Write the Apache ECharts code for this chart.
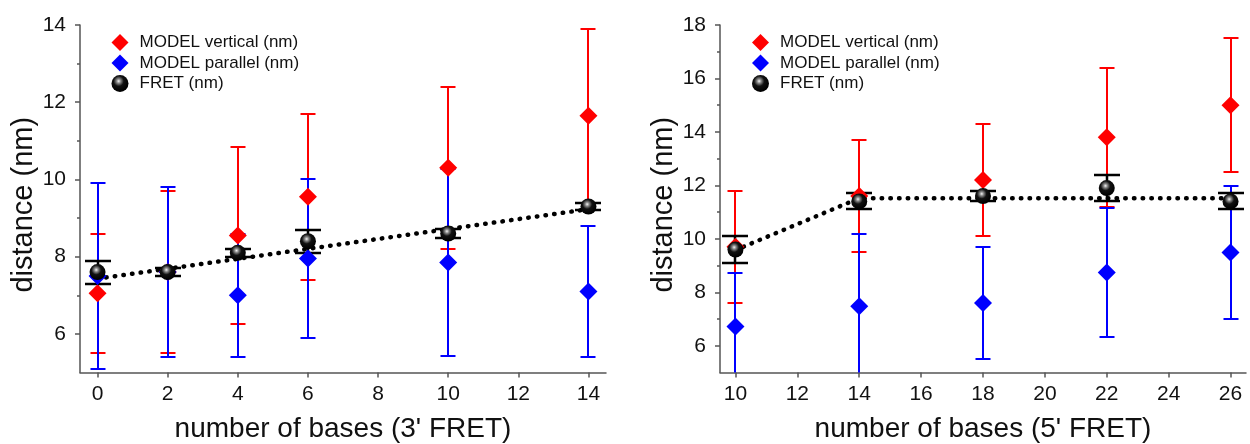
<!DOCTYPE html>
<html>
<head>
<meta charset="utf-8">
<script src="https://cdn.jsdelivr.net/npm/echarts@6/dist/echarts.min.js"></script>
<style>
html,body{margin:0;padding:0;background:#fff;}
#chart{width:1250px;height:444px;}
</style>
</head>
<body>
<div id="chart"></div>
<script>
// ---- Left panel data (3' FRET) ----
const leftX = [0, 2, 4, 6, 10, 14];
const leftVert = [7.05, 7.6, 8.55, 9.55, 10.3, 11.65];
const leftVertErr = [1.55, 2.1, 2.3, 2.15, 2.1, 2.25];
const leftPar = [7.5, 7.6, 7.0, 7.95, 7.85, 7.1];
const leftParErr = [2.4, 2.2, 1.6, 2.05, 2.43, 1.7];
const leftFret = [7.6, 7.6, 8.1, 8.4, 8.6, 9.3];
const leftFretErr = [0.3, 0.1, 0.1, 0.3, 0.12, 0.1];
const leftFitX = [0, 14];
const leftFitY = [7.43, 9.23];
const leftXTicks = [0, 2, 4, 6, 8, 10, 12, 14];
const leftYTicks = [6, 8, 10, 12, 14];
const leftYMinor = [7, 9, 11, 13];

// ---- Right panel data (5' FRET) ----
const rightX = [10, 14, 18, 22, 26];
const rightVert = [9.7, 11.6, 12.2, 13.8, 15.0];
const rightVertErr = [2.1, 2.1, 2.1, 2.6, 2.5];
const rightPar = [6.72, 7.48, 7.6, 8.74, 9.49];
const rightParErr = [2.0, 2.7, 2.1, 2.43, 2.5];
const rightFret = [9.6, 11.4, 11.6, 11.9, 11.4];
const rightFretErr = [0.5, 0.3, 0.2, 0.5, 0.3];
const rightFitX = [10, 14, 26];
const rightFitY = [9.58, 11.52, 11.52];
const rightXTicks = [10, 12, 14, 16, 18, 20, 22, 24, 26];
const rightYTicks = [6, 8, 10, 12, 14, 16, 18];
const rightYMinor = [7, 9, 11, 13, 15, 17];

const NAME_V = 'MODEL vertical (nm)';
const NAME_P = 'MODEL parallel (nm)';
const NAME_F = 'FRET (nm)';
const FONT = 'Liberation Sans, Arial, sans-serif';
const AXIS_COLOR = '#555';
const TEXT_COLOR = '#111';

const ballColor = new echarts.graphic.RadialGradient(0.42, 0.36, 0.6, [
  {offset: 0, color: '#f4f4f4'},
  {offset: 0.2, color: '#8a8a8a'},
  {offset: 0.5, color: '#111'},
  {offset: 1, color: '#000'}
]);

function pts(xs, ys) { return xs.map((x, i) => [x, ys[i]]); }
function errPts(xs, ys, es) { return xs.map((x, i) => [x, ys[i], es[i]]); }

function errRender(color, capW, lw) {
  return function (params, api) {
    const x = api.value(0), y = api.value(1), e = api.value(2);
    const t = api.coord([x, y + e]);
    const b = api.coord([x, y - e]);
    const cx = Math.round(t[0]);
    const ty = Math.round(t[1]), by = Math.round(b[1]);
    const h = capW / 2;
    const st = {stroke: color, lineWidth: lw, opacity: 1};
    return {
      type: 'group',
      children: [
        {type: 'line', shape: {x1: cx, y1: ty, x2: cx, y2: by}, style: st},
        {type: 'line', shape: {x1: cx - h, y1: ty, x2: cx + h, y2: ty}, style: st},
        {type: 'line', shape: {x1: cx - h, y1: by, x2: cx + h, y2: by}, style: st}
      ]
    };
  };
}

function xAxisCfg(gridIndex, min, max, ticks, title) {
  return {
    type: 'value', gridIndex, min, max, position: 'bottom',
    splitLine: {show: false},
    axisLine: {show: true, onZero: false, lineStyle: {color: AXIS_COLOR, width: 1.5}},
    axisTick: {show: true, inside: false, length: 5, customValues: ticks, lineStyle: {color: AXIS_COLOR, width: 1.5}},
    axisLabel: {show: true, customValues: ticks, margin: 11, fontSize: 21, color: TEXT_COLOR, fontFamily: FONT},
    name: title, nameLocation: 'middle', nameGap: 43,
    nameTextStyle: {fontSize: 28, color: TEXT_COLOR, fontFamily: FONT}
  };
}
function yAxisCfg(gridIndex, min, max, ticks) {
  return {
    type: 'value', gridIndex, min, max, position: 'left',
    splitLine: {show: false},
    axisLine: {show: true, onZero: false, lineStyle: {color: AXIS_COLOR, width: 1.5}},
    axisTick: {show: true, inside: false, length: 5, customValues: ticks, lineStyle: {color: AXIS_COLOR, width: 1.5}},
    axisLabel: {show: true, customValues: ticks, margin: 14, fontSize: 21, color: TEXT_COLOR, fontFamily: FONT},
    name: 'distance (nm)', nameLocation: 'middle', nameGap: 41,
    nameTextStyle: {fontSize: 29, color: TEXT_COLOR, fontFamily: FONT, padding: [0, 12, 0, 0]}
  };
}
function yMinorCfg(gridIndex, min, max, ticks) {
  return {
    type: 'value', gridIndex, min, max, position: 'left',
    splitLine: {show: false},
    axisLine: {show: false, onZero: false},
    axisTick: {show: true, inside: false, length: 3, customValues: ticks, lineStyle: {color: AXIS_COLOR, width: 1.5}},
    axisLabel: {show: false}
  };
}

function panelSeries(xi, yi, xs, v, ve, p, pe, f, fe, fitX, fitY) {
  return [
    {type: 'custom', name: 'errV' + xi, xAxisIndex: xi, yAxisIndex: yi, clip: true,
     renderItem: errRender('#ff0000', 15, 2), encode: {x: 0, y: 1}, data: errPts(xs, v, ve), z: 2},
    {type: 'scatter', name: NAME_V, xAxisIndex: xi, yAxisIndex: yi, symbol: 'diamond', symbolSize: 18,
     itemStyle: {color: '#ff0000', opacity: 1}, data: pts(xs, v), z: 2},
    {type: 'custom', name: 'errP' + xi, xAxisIndex: xi, yAxisIndex: yi, clip: true,
     renderItem: errRender('#0000ff', 15, 2), encode: {x: 0, y: 1}, data: errPts(xs, p, pe), z: 2},
    {type: 'scatter', name: NAME_P, xAxisIndex: xi, yAxisIndex: yi, symbol: 'diamond', symbolSize: 18,
     itemStyle: {color: '#0000ff', opacity: 1}, data: pts(xs, p), z: 2},
    {type: 'line', name: 'fit' + xi, xAxisIndex: xi, yAxisIndex: yi, symbol: 'none', silent: true,
     lineStyle: {color: '#000', width: 4.5, type: [0.5, 8.2], cap: 'round'}, data: pts(fitX, fitY), z: 2},
    {type: 'custom', name: 'errF' + xi, xAxisIndex: xi, yAxisIndex: yi, clip: true,
     renderItem: errRender('#000000', 26, 2.5), encode: {x: 0, y: 1}, data: errPts(xs, f, fe), z: 2},
    {type: 'scatter', name: NAME_F, xAxisIndex: xi, yAxisIndex: yi, symbol: 'circle', symbolSize: 16,
     itemStyle: {color: ballColor, opacity: 1}, data: pts(xs, f), z: 2}
  ];
}

function legendCfg(left) {
  return {
    orient: 'vertical', left, top: 29, itemGap: 3.5, itemWidth: 17, itemHeight: 17,
    selectedMode: false,
    textStyle: {fontSize: 17, color: TEXT_COLOR, fontFamily: FONT, padding: [0, 0, 0, 6]},
    data: [
      {name: NAME_V, icon: 'diamond', itemStyle: {color: '#ff0000', opacity: 1}},
      {name: NAME_P, icon: 'diamond', itemStyle: {color: '#0000ff', opacity: 1}},
      {name: NAME_F, icon: 'circle', itemStyle: {color: ballColor, opacity: 1}}
    ]
  };
}

const chart = echarts.init(document.getElementById('chart'), null, {renderer: 'canvas'});
chart.setOption({
  backgroundColor: '#fff',
  animation: false,
  grid: [
    {left: 80, right: 644, top: 25, bottom: 71.5, containLabel: false, outerBoundsMode: 'none'},
    {left: 720, right: 4, top: 25, bottom: 71.5, containLabel: false, outerBoundsMode: 'none'}
  ],
  legend: [legendCfg(106.5), legendCfg(747)],
  xAxis: [
    xAxisCfg(0, -0.5, 14.5, leftXTicks, "number of bases (3' FRET)"),
    xAxisCfg(1, 9.5, 26.5, rightXTicks, "number of bases (5' FRET)")
  ],
  yAxis: [
    yAxisCfg(0, 5, 14, leftYTicks),
    yMinorCfg(0, 5, 14, leftYMinor),
    yAxisCfg(1, 5, 18, rightYTicks),
    yMinorCfg(1, 5, 18, rightYMinor)
  ],
  series: [].concat(
    panelSeries(0, 0, leftX, leftVert, leftVertErr, leftPar, leftParErr, leftFret, leftFretErr, leftFitX, leftFitY),
    panelSeries(1, 2, rightX, rightVert, rightVertErr, rightPar, rightParErr, rightFret, rightFretErr, rightFitX, rightFitY)
  )
});
</script>
</body>
</html>
